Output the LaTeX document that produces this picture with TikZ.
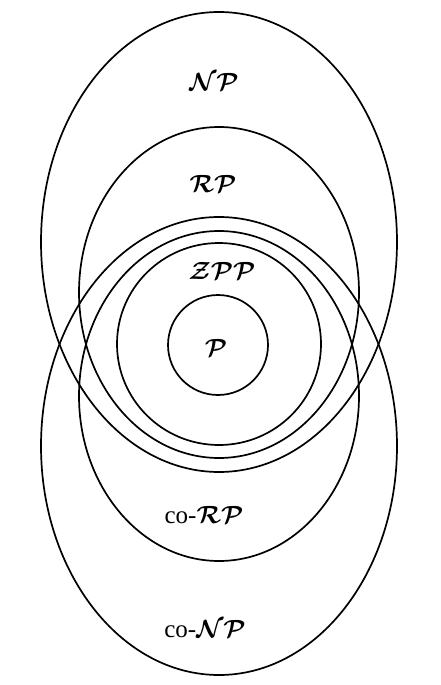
\documentclass[tikz,border=0pt]{standalone}
\usepackage{amsmath}
\usepackage{fontspec}
\newfontfamily\coserif{Liberation Serif}
\begin{document}
\begin{tikzpicture}[x=1pt,y=-1pt,
  ring/.style={draw=black, line width=1.7pt},
  lbl/.style={inner sep=0pt, font=\fontsize{25}{30}\selectfont\boldmath}]
\useasboundingbox (0,0) rectangle (441,685);
% NP and co-NP
\draw[ring] (219,242) ellipse [x radius=178, y radius=230];
\draw[ring] (219,446) ellipse [x radius=178, y radius=229];
% RP and co-RP
\draw[ring] (219,292.5) ellipse [x radius=140, y radius=165.5];
\draw[ring] (219,396) ellipse [x radius=140, y radius=165];
% ZPP
\draw[ring] (219,344) ellipse [x radius=102, y radius=101];
% P
\draw[ring] (218,345) circle [radius=50];
% labels
\node[lbl] (np) at (214,82) {$\mathcal{NP}$};
\node[lbl] (rp) at (213,184) {$\mathcal{RP}$};
\node[lbl] (zpp) at (222,271) {$\mathcal{ZPP}$};
\node[lbl] (p) at (216,348) {$\mathcal{P}$};
\node[lbl] (corp) at (204,515) {{\coserif\fontsize{25}{30}\selectfont co-}$\mathcal{RP}$};
\node[lbl] (conp) at (205,629) {{\coserif\fontsize{25}{30}\selectfont co-}$\mathcal{NP}$};
\end{tikzpicture}
\end{document}
